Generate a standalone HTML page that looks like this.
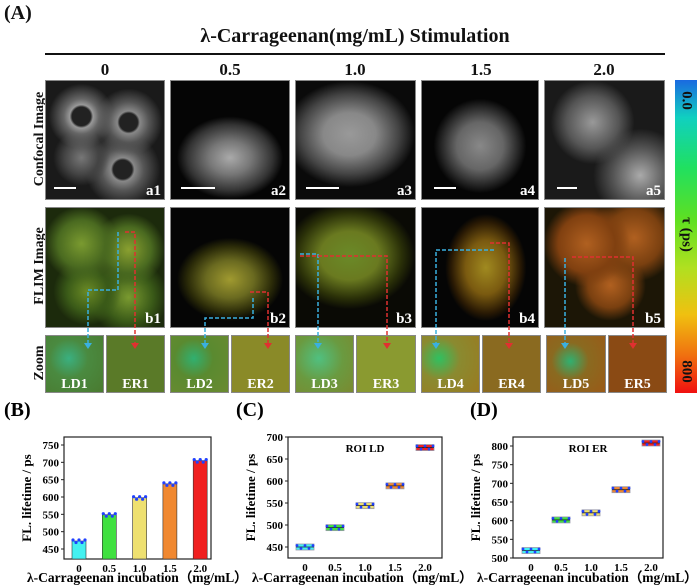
<!DOCTYPE html>
<html><head><meta charset="utf-8">
<style>
body{margin:0;background:#fff;}
#root{position:relative;width:700px;height:587px;overflow:hidden;font-family:"Liberation Serif",serif;font-weight:bold;color:#111;}
.abs{position:absolute;}
.img{position:absolute;background:#050505;overflow:hidden;border:1px solid #888;box-sizing:border-box;}
.lbl{position:absolute;right:3px;bottom:0px;color:#fff;font-size:15px;font-weight:bold;line-height:15px;}
.zl{position:absolute;bottom:0px;color:#fff;font-size:14px;font-weight:bold;line-height:14px;width:100%;text-align:center;}
.bar{position:absolute;height:2px;background:#fff;}
.rot{position:absolute;transform:rotate(-90deg);transform-origin:center;white-space:nowrap;font-size:14px;}
.col{position:absolute;top:60px;font-size:17px;width:120px;text-align:center;}
</style></head><body>
<div id="root">
<div class="abs" style="left:4px;top:2px;font-size:20px;">(A)</div>
<div class="abs" style="left:45px;top:25px;width:620px;text-align:center;font-size:20px;">λ-Carrageenan(mg/mL) Stimulation</div>
<div class="abs" style="left:45px;top:53px;width:620px;height:2px;background:#111;"></div>
<div class="col" style="left:45px">0</div>
<div class="col" style="left:170px">0.5</div>
<div class="col" style="left:295px">1.0</div>
<div class="col" style="left:421px">1.5</div>
<div class="col" style="left:544px">2.0</div>
<div class="rot" style="left:-10px;top:131px;width:100px;text-align:center;">Confocal Image</div>
<div class="rot" style="left:-10px;top:258px;width:100px;text-align:center;">FLIM Image</div>
<div class="rot" style="left:-10px;top:355px;width:100px;text-align:center;">Zoom</div>

<!-- confocal row -->
<div class="img" style="left:45px;top:80px;width:120px;height:120px;background:radial-gradient(circle at 30% 30%,#222 0,#222 8%,#999 10%,#666 15%,transparent 28%),radial-gradient(circle at 70% 35%,#222 0,#222 8%,#888 10%,#555 18%,transparent 30%),radial-gradient(circle at 30% 65%,#777 0,#444 15%,transparent 25%),radial-gradient(circle at 65% 75%,#222 0,#222 8%,#888 10%,#555 18%,transparent 32%),#1a1a1a;"><div class="bar" style="left:8px;bottom:10px;width:22px;"></div><div class="lbl">a1</div></div>
<div class="img" style="left:170px;top:80px;width:120px;height:120px;background:radial-gradient(ellipse 45% 35% at 50% 65%,#aaa 0,#777 40%,#333 80%,transparent 100%),#050505;"><div class="bar" style="left:10px;bottom:10px;width:34px;"></div><div class="lbl">a2</div></div>
<div class="img" style="left:295px;top:80px;width:121px;height:120px;background:radial-gradient(ellipse 55% 45% at 45% 45%,#999 0,#888 40%,#444 75%,transparent 100%),#0a0a0a;"><div class="bar" style="left:10px;bottom:10px;width:33px;"></div><div class="lbl">a3</div></div>
<div class="img" style="left:421px;top:80px;width:118px;height:120px;background:radial-gradient(ellipse 40% 40% at 50% 55%,#888 0,#666 50%,#222 85%,transparent 100%),#050505;"><div class="bar" style="left:12px;bottom:10px;width:22px;"></div><div class="lbl">a4</div></div>
<div class="img" style="left:544px;top:80px;width:121px;height:120px;background:radial-gradient(circle at 40% 35%,#999 0,#555 25%,transparent 40%),radial-gradient(circle at 80% 80%,#aaa 0,#555 20%,transparent 35%),#1a1a1a;"><div class="bar" style="left:12px;bottom:10px;width:20px;"></div><div class="lbl">a5</div></div>

<!-- FLIM row -->
<div class="img" style="left:45px;top:207px;width:120px;height:121px;background:radial-gradient(circle at 30% 30%,#7a9a30 0,#4a6a20 20%,transparent 32%),radial-gradient(circle at 70% 35%,#8aa030 0,#4a6a20 20%,transparent 32%),radial-gradient(circle at 35% 70%,#6a8a25 0,#3a5a18 18%,transparent 30%),radial-gradient(circle at 70% 75%,#7a9a30 0,#3a5a18 20%,transparent 32%),#1c2a0c;"><div class="lbl">b1</div></div>
<div class="img" style="left:170px;top:207px;width:120px;height:121px;background:radial-gradient(ellipse 45% 35% at 50% 60%,#a09a30 0,#6a6a20 45%,#2a2a08 80%,transparent 100%),#050505;"><div class="lbl">b2</div></div>
<div class="img" style="left:295px;top:207px;width:121px;height:121px;background:radial-gradient(ellipse 55% 45% at 45% 40%,#6a8a28 0,#6a7a20 45%,#2a3008 80%,transparent 100%),#0a0a05;"><div class="lbl">b3</div></div>
<div class="img" style="left:421px;top:207px;width:118px;height:121px;background:radial-gradient(ellipse 35% 45% at 55% 50%,#a08a20 0,#7a5a10 50%,#2a1a04 85%,transparent 100%),#050505;"><div class="lbl">b4</div></div>
<div class="img" style="left:544px;top:207px;width:121px;height:121px;background:radial-gradient(circle at 35% 30%,#b06020 0,#804010 25%,transparent 38%),radial-gradient(circle at 75% 25%,#b06020 0,#7a4010 22%,transparent 35%),radial-gradient(circle at 55% 65%,#b06020 0,#7a4010 22%,transparent 35%),#1c1606;"><div class="lbl">b5</div></div>

<!-- zoom row -->
<div class="img" style="left:45px;top:335px;width:59px;height:58px;background:radial-gradient(circle at 40% 40%,#3ab080 0,#4a8a40 40%,#4a7a30 100%);"><div class="zl">LD1</div></div>
<div class="img" style="left:106px;top:335px;width:59px;height:58px;background:#5a7a28;"><div class="zl">ER1</div></div>
<div class="img" style="left:170px;top:335px;width:59px;height:58px;background:radial-gradient(circle at 40% 40%,#30b070 0,#5a8a30 40%,#6a8a30 100%);"><div class="zl">LD2</div></div>
<div class="img" style="left:231px;top:335px;width:59px;height:58px;background:#8a8a28;"><div class="zl">ER2</div></div>
<div class="img" style="left:295px;top:335px;width:59px;height:58px;background:radial-gradient(circle at 40% 40%,#50c080 0,#6a9a40 50%,#7a8a30 100%);"><div class="zl">LD3</div></div>
<div class="img" style="left:356px;top:335px;width:60px;height:58px;background:#8a9a30;"><div class="zl">ER3</div></div>
<div class="img" style="left:421px;top:335px;width:59px;height:58px;background:radial-gradient(circle at 30% 40%,#30c060 0,#8a8a30 40%,#9a7a20 100%);"><div class="zl">LD4</div></div>
<div class="img" style="left:482px;top:335px;width:59px;height:58px;background:#8a6a20;"><div class="zl">ER4</div></div>
<div class="img" style="left:546px;top:335px;width:60px;height:58px;background:radial-gradient(circle at 40% 45%,#30b070 0,#8a6a20 40%,#9a5a18 100%);"><div class="zl">LD5</div></div>
<div class="img" style="left:608px;top:335px;width:59px;height:58px;background:#8a4a14;"><div class="zl">ER5</div></div>

<!-- dashed arrows -->
<svg class="abs" style="left:0;top:0" width="700" height="400">
<g fill="none" stroke-width="1.5" stroke-dasharray="4,2">
<path d="M118 232 V290 H88 V343" stroke="#3ab0e0"/><path d="M125 232 H135 V343" stroke="#e03030"/>
<path d="M253 298 V318 H205 V343" stroke="#3ab0e0"/><path d="M250 292 H268 V343" stroke="#e03030"/>
<path d="M300 254 H318 V343" stroke="#3ab0e0"/><path d="M300 256 H387 V343" stroke="#e03030"/>
<path d="M494 250 H436 V343" stroke="#3ab0e0"/><path d="M490 243 H509 V343" stroke="#e03030"/>
<path d="M565 258 V343" stroke="#3ab0e0"/><path d="M572 257 H633 V343" stroke="#e03030"/>
</g>
<g>
<path d="M84 343 h8 l-4 6z" fill="#3ab0e0"/><path d="M131 343 h8 l-4 6z" fill="#e03030"/>
<path d="M201 343 h8 l-4 6z" fill="#3ab0e0"/><path d="M264 343 h8 l-4 6z" fill="#e03030"/>
<path d="M314 343 h8 l-4 6z" fill="#3ab0e0"/><path d="M383 343 h8 l-4 6z" fill="#e03030"/>
<path d="M432 343 h8 l-4 6z" fill="#3ab0e0"/><path d="M505 343 h8 l-4 6z" fill="#e03030"/>
<path d="M561 343 h8 l-4 6z" fill="#3ab0e0"/><path d="M629 343 h8 l-4 6z" fill="#e03030"/>
</g></svg>

<!-- colorbar -->
<div class="abs" style="left:675px;top:80px;width:22px;height:313px;background:linear-gradient(#1a6ae0 0%,#10d0c0 12%,#20e060 28%,#60e020 45%,#b0e020 60%,#f0c010 75%,#f07010 88%,#f01010 100%);"></div>
<div class="abs" style="left:670px;top:92px;width:32px;text-align:center;transform:rotate(90deg);font-size:15px;">0.0</div>
<div class="abs" style="left:656px;top:226px;width:60px;text-align:center;transform:rotate(90deg);font-size:15px;">τ (ps)</div>
<div class="abs" style="left:670px;top:363px;width:32px;text-align:center;transform:rotate(90deg);font-size:15px;">800</div>

<svg class="abs" style="left:0;top:0" width="700" height="587" id="charts" font-family="Liberation Serif, serif" font-weight="bold"></svg>
</div>
<script>
const cats=["0","0.5","1.0","1.5","2.0"];
const valsB=[473,549,598,638,705];
const valsC=[450,494,544,589,676];
const valsD=[520,602,621,683,808];
const ticksB=[450,500,550,600,650,700,750];
const ticksC=[450,500,550,600,650,700];
const ticksD=[500,550,600,650,700,750,800];
const colors=["#44f0f0","#40e040","#eee070","#f08830","#f02020"];
const NS="http://www.w3.org/2000/svg";
const svg=document.getElementById('charts');
function mk(t,a,txt){const e=document.createElementNS(NS,t);for(const k in a)e.setAttribute(k,a[k]);if(txt!==undefined)e.textContent=txt;svg.appendChild(e);return e;}
function panel(o){
 const y=v=>o.y0+(o.v0-v)*(o.y1-o.y0)/(o.v0-o.v1);
 const x=i=>o.xs+i*o.dx;
 let r=mk('rect',{x:o.L,y:o.T,width:o.R-o.L,height:o.B-o.T,fill:'none',stroke:'#222','stroke-width':1.2});
 
 
 o.ticks.forEach(t=>{let l=mk('line',{x1:o.L-3,x2:o.L,y1:y(t),y2:y(t),stroke:'#222'});
  
  
  let tx=mk('text',{x:o.L-5,y:y(t)+4,'font-size':11,'text-anchor':'end'},t);
  
  });
 cats.forEach((c,i)=>{let tx=mk('text',{x:x(i),y:o.B+13,'font-size':11,'text-anchor':'middle'},c);
  
  
  const v=o.vals[i];
  if(o.bar){let b=mk('rect',{x:x(i)-7,y:y(v),width:14,height:o.B-y(v),fill:colors[i],stroke:'#333','stroke-width':0.6});
   
   
   for(let k=-2;k<=2;k++){let d=mk('circle',{cx:x(i)+k*3,cy:y(v)+(k%2?1.5:-1),r:1.6,fill:'#2040ff'});
    
    }
  }else{let b=mk('rect',{x:x(i)-9,y:y(v)-3,width:18,height:6,fill:colors[i],stroke:'#99a','stroke-width':0.8});
   
   
   let m=mk('line',{x1:x(i)-9,x2:x(i)+9,y1:y(v),y2:y(v),stroke:'#222','stroke-width':0.8});
   
   
   for(let k=-2;k<=2;k++){let d=mk('circle',{cx:x(i)+k*4,cy:y(v)+(k%2?1.5:-1.5),r:1.4,fill:'#2040ff'});
    
    }
  }});
 let yl=mk('text',{x:0,y:0,'font-size':13,'text-anchor':'middle',transform:`translate(${o.L-33},${(o.T+o.B)/2}) rotate(-90)`},'FL. lifetime / ps');
 
 
 let pl=mk('text',{x:o.px,y:416,'font-size':20},o.plabel);
 
 
 let xl=mk('text',{x:o.xlx,y:582,'font-size':13.5},o.xlabel);
 
 
 if(o.roi){let t=mk('text',{x:(o.L+o.R)/2,y:o.T+15,'font-size':11,'text-anchor':'middle'},o.roi);
  
  }
}
panel({id:'chart-b',vals:valsB,ticks:ticksB,bar:true,L:64,R:211,T:437,B:559,y0:445,v0:750,y1:549,v1:450,xs:79,dx:30.3,px:4,plabel:'(B)',xlabel:'λ-Carrageenan incubation（mg/mL）',xlx:27});
panel({id:'chart-c',vals:valsC,ticks:ticksC,bar:false,L:288,R:442,T:437,B:558,y0:437,v0:700,y1:547,v1:450,xs:305,dx:30,px:236,plabel:'(C)',xlabel:'λ-Carrageenan incubation（mg/mL）',xlx:252,roi:'ROI LD'});
panel({id:'chart-d',vals:valsD,ticks:ticksD,bar:false,L:513,R:663,T:437,B:558,y0:446,v0:800,y1:558,v1:500,xs:531,dx:30,px:470,plabel:'(D)',xlabel:'λ-Carrageenan incubation（mg/mL）',xlx:477,roi:'ROI ER'});
</script>
</body></html>
